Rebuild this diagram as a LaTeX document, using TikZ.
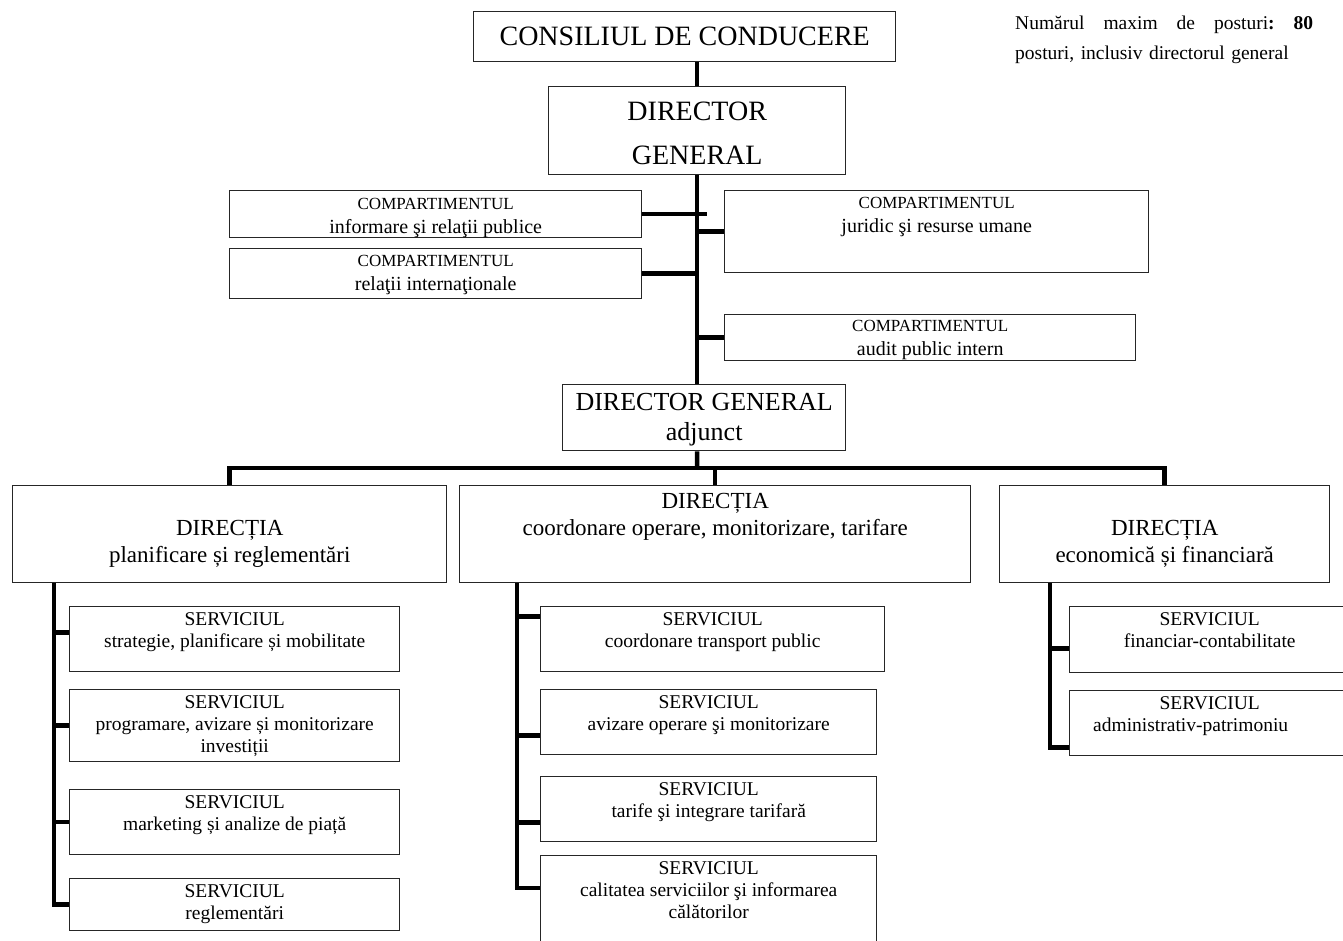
\documentclass[tikz,border=0pt]{standalone}
\usepackage{fontspec}
\setmainfont{Liberation Serif}
\usetikzlibrary{positioning}

\newcommand{\bigfont}{\fontsize{28pt}{44pt}\selectfont}
\newcommand{\adjfont}{\fontsize{26pt}{30pt}\selectfont}
\newcommand{\dirfont}{\fontsize{23pt}{27pt}\selectfont}
\newcommand{\svcfont}{\fontsize{19.5pt}{22pt}\selectfont}
\newcommand{\compfont}{\fontsize{20pt}{23.5pt}\selectfont}
\newcommand{\compcap}{\fontsize{17pt}{23.5pt}\selectfont}
\newcommand{\notefont}{\fontsize{19.5pt}{30pt}\selectfont}

\tikzset{
  box/.style={draw=black!85, line width=1.4pt, inner sep=0pt, anchor=north west},
  boxtxt/.style={anchor=north, align=center, inner xsep=0pt, inner ysep=#1},
  link/.style={line width=4.5pt},
}

\begin{document}
\begin{tikzpicture}[x=1pt, y=-1pt]
    \useasboundingbox (0,0) rectangle (1343,940);

    % top levels
    \node[box, minimum width=422pt, minimum height=50pt,
      label={[boxtxt=15.7pt, font=\bigfont]north:{CONSILIUL DE CONDUCERE}}] (cons) at (473,11) {};
    \node[box, minimum width=297pt, minimum height=88pt,
      label={[boxtxt=15.7pt, font=\bigfont]north:{DIRECTOR\\GENERAL}}] (dg) at (548,86) {};
    \node[anchor=north west, text width=298pt, align=left, inner sep=0pt, font=\notefont] (note) at (1015,16)
      {Numărul\hfill maxim\hfill de\hfill posturi\textbf{:}\hfill\textbf{80}\\posturi, inclusiv directorul general};

    % compartimente
    \node[box, minimum width=412pt, minimum height=47pt,
      label={[boxtxt=8.5pt, font=\compfont]north:{{\compcap COMPARTIMENTUL}\\informare şi relaţii publice}}] (inf) at (229,190) {};
    \node[box, minimum width=412pt, minimum height=50pt,
      label={[boxtxt=7.5pt, font=\compfont]north:{{\compcap COMPARTIMENTUL}\\relaţii internaţionale}}] (rel) at (229,248) {};
    \node[box, minimum width=424pt, minimum height=82pt,
      label={[boxtxt=7.5pt, font=\compfont]north:{{\compcap COMPARTIMENTUL}\\juridic şi resurse umane}}] (jur) at (724,190) {};
    \node[box, minimum width=411pt, minimum height=46pt,
      label={[boxtxt=6.5pt, font=\compfont]north:{{\compcap COMPARTIMENTUL}\\audit public intern}}] (aud) at (724,314) {};

    \node[box, minimum width=283pt, minimum height=66pt,
      label={[boxtxt=9.4pt, font=\adjfont]north:{DIRECTOR GENERAL\\adjunct}}] (adj) at (562,384) {};

    % directii
    \node[box, minimum width=434pt, minimum height=97pt,
      label={[boxtxt=35pt, font=\dirfont]north:{DIRECȚIA\\planificare și reglementări}}] (dp) at (12,485) {};
    \node[box, minimum width=511pt, minimum height=97pt,
      label={[boxtxt=8pt, font=\dirfont]north:{DIRECȚIA\\coordonare operare, monitorizare, tarifare}}] (dc) at (459,485) {};
    \node[box, minimum width=330pt, minimum height=97pt,
      label={[boxtxt=35pt, font=\dirfont]north:{DIRECȚIA\\economică și financiară}}] (de) at (999,485) {};

    % servicii, stanga
    \node[box, minimum width=330pt, minimum height=65pt,
      label={[boxtxt=6.6pt, font=\svcfont]north:{SERVICIUL\\strategie, planificare și mobilitate}}] (ls1) at (69,606) {};
    \node[box, minimum width=330pt, minimum height=72pt,
      label={[boxtxt=6.6pt, font=\svcfont]north:{SERVICIUL\\programare, avizare și monitorizare\\investiții}}] (ls2) at (69,689) {};
    \node[box, minimum width=330pt, minimum height=65pt,
      label={[boxtxt=6.6pt, font=\svcfont]north:{SERVICIUL\\marketing și analize de piață}}] (ls3) at (69,789) {};
    \node[box, minimum width=330pt, minimum height=52pt,
      label={[boxtxt=6.6pt, font=\svcfont]north:{SERVICIUL\\reglementări}}] (ls4) at (69,878) {};

    % servicii, mijloc
    \node[box, minimum width=344pt, minimum height=65pt,
      label={[boxtxt=6.6pt, font=\svcfont]north:{SERVICIUL\\coordonare transport public}}] (ms1) at (540,606) {};
    \node[box, minimum width=336pt, minimum height=65pt,
      label={[boxtxt=6.6pt, font=\svcfont]north:{SERVICIUL\\avizare operare şi monitorizare}}] (ms2) at (540,689) {};
    \node[box, minimum width=336pt, minimum height=65pt,
      label={[boxtxt=6.6pt, font=\svcfont]north:{SERVICIUL\\tarife şi integrare tarifară}}] (ms3) at (540,776) {};
    \node[box, minimum width=336pt, minimum height=110pt,
      label={[boxtxt=6.6pt, font=\svcfont]north:{SERVICIUL\\calitatea serviciilor şi informarea\\călătorilor}}] (ms4) at (540,855) {};

    % servicii, dreapta
    \node[box, minimum width=280pt, minimum height=66pt,
      label={[boxtxt=6.6pt, font=\svcfont]north:{SERVICIUL\\financiar-contabilitate}}] (rs1) at (1069,606) {};
    \node[box, minimum width=280pt, minimum height=65pt,
      label={[boxtxt=6.6pt, font=\svcfont]north:{SERVICIUL\\administrativ-patrimoniu\hspace*{38pt}}}] (rs2) at (1069,690) {};

    % legaturi
    \coordinate (bus) at (697,468);
    \coordinate (lsp) at ([xshift=42pt]dp.south west);
    \coordinate (msp) at ([xshift=58pt]dc.south west);
    \coordinate (rsp) at ([xshift=51pt]de.south west);

    \draw[link] (dg.north) -- (dg.north |- cons.south);
    \draw[link] (dg.south) -- (dg.south |- adj.north);
    \draw[link] (inf.east) -- +(65,0);
    \draw[link] (rel.east) -- (rel.east -| dg.south);
    \draw[link] (jur.west) -- (jur.west -| dg.south);
    \draw[link] (aud.west) -- (aud.west -| dg.south);

    \draw[link] (dg.south |- adj.south) -- (bus);
    \draw[link] (dp.north) |- (bus) -| (de.north);
    \draw[link] (dc.north) -- (dc.north |- bus);

    \draw[link] (lsp) |- ([yshift=6.5pt]ls1.west) (lsp) |- (ls2.west) (lsp) |- (ls3.west) (lsp) |- (ls4.west);
    \draw[link] (msp) |- ([yshift=22.5pt]ms1.west) (msp) |- ([yshift=-13.5pt]ms2.west)
      (msp) |- ([yshift=-13.5pt]ms3.west) (msp) |- ([yshift=-33pt]ms4.north west);
    \draw[link] (rsp) |- ([yshift=-9pt]rs1.west) (rsp) |- ([yshift=-24.5pt]rs2.west);
  \end{tikzpicture}
\end{document}
